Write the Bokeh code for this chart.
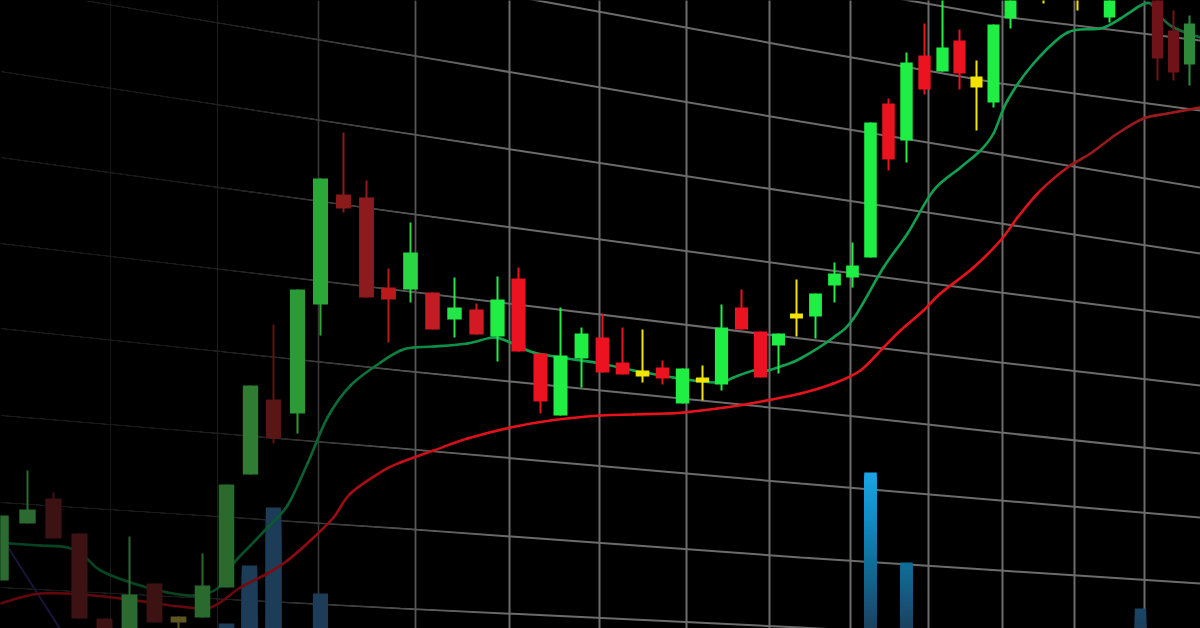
import numpy as np
from bokeh.plotting import figure
from bokeh.models import Range1d
from bokeh.embed import file_html
from bokeh.resources import INLINE

# ---------------- data (price units; time axis positions) ----------------
candle_x = [0, 27, 53, 79, 104, 129, 154, 178, 202, 226, 250, 273, 297, 320, 343, 366, 388,
            410, 432, 454, 476, 497, 518, 540, 560, 581, 602, 622, 642, 662, 682, 702, 721,
            741, 760, 778, 796, 815, 834, 852, 870, 888, 906, 924, 942, 959, 976, 993, 1010,
            1043, 1077, 1109, 1157, 1173, 1189]
opens = [48, 105, 130, 95, 10, -12, 45, 12, 11, 41, 154, 229, 215, 324, 434, 431, 341,
         339, 336, 309, 319, 292, 350, 275, 213, 270, 291, 266, 258, 261, 225, 251, 244,
         321, 297, 283, 315, 312, 343, 351, 371, 525, 488, 573, 557, 588, 552, 526, 610,
         658, 668, 611, 638, 598, 564]
highs = [113, 158, 136, 95, 10, 92, 45, 12, 75, 144, 243, 304, 339, 450, 496, 448, 360,
         406, 336, 351, 325, 352, 361, 275, 321, 301, 315, 301, 299, 268, 260, 263, 324,
         339, 297, 295, 349, 335, 366, 386, 506, 530, 576, 605, 638, 599, 568, 604, 648,
         658, 668, 648, 638, 618, 613]
lows = [48, 105, 90, 10, -12, -12, 6, -12, 11, 41, 154, 185, 195, 293, 416, 331, 286,
        326, 299, 291, 294, 267, 277, 215, 213, 241, 256, 254, 246, 244, 225, 228, 238,
        299, 251, 255, 292, 290, 326, 341, 371, 458, 466, 534, 557, 539, 498, 521, 600,
        625, 618, 606, 548, 548, 543]
closes = [113, 119, 90, 10, -12, 34, 6, 6, 43, 144, 243, 190, 339, 450, 420, 331, 329,
          376, 299, 321, 294, 329, 277, 227, 273, 295, 256, 254, 252, 250, 260, 246, 301,
          299, 251, 295, 310, 335, 355, 363, 506, 469, 566, 539, 581, 555, 541, 604, 648,
          653, 663, 648, 570, 556, 605]
kind = ["u", "u", "d", "d", "d", "u", "d", "n", "u", "u", "u", "d", "u", "u", "d", "d", "d",
        "u", "d", "u", "d", "u", "d", "d", "u", "u", "d", "d", "n", "d", "u", "n", "u",
        "d", "d", "u", "n", "u", "u", "u", "u", "d", "u", "d", "u", "d", "n", "u", "u",
        "n", "n", "u", "d", "d", "u"]

volume_x = [226, 249, 273, 320, 870, 906, 1140]
volume = [5, 63, 121, 35, 156, 66, 20]

ma_fast_x = [0, 10, 40, 67, 85, 100, 133, 167, 193, 217, 233, 250, 267, 287, 307, 327, 350,
             380, 400, 413, 433, 467, 493, 510, 533, 567, 600, 633, 673, 693, 720, 733, 753,
             767, 783, 800, 833, 853, 883, 907, 933, 960, 980, 993, 1007, 1033, 1067, 1100,
             1120, 1140, 1150, 1157, 1173, 1200]
ma_fast = [86, 85, 83, 81, 71, 58, 45, 36, 33, 40, 65, 83, 101, 123, 165, 211, 243,
           266, 278, 281, 282, 285, 291, 286, 276, 270, 265, 258, 251, 248, 246, 251, 258,
           258, 263, 270, 291, 310, 361, 395, 438, 461, 478, 495, 528, 565, 596, 600,
           610, 623, 625, 615, 601, 591]

ma_slow_x = [0, 20, 40, 67, 93, 120, 150, 180, 210, 240, 267, 287, 310, 333, 350, 383, 400,
             433, 467, 510, 550, 600, 633, 667, 683, 717, 750, 800, 833, 860, 883, 900, 923,
             940, 973, 1000, 1017, 1040, 1067, 1090, 1117, 1143, 1167, 1200]
ma_slow = [25, 31, 35, 35, 33, 30, 26, 22, 21, 41, 55, 68, 88, 111, 135, 158, 166,
           178, 190, 201, 208, 213, 214, 215, 216, 220, 225, 235, 245, 258, 281, 298, 318,
           335, 361, 388, 411, 438, 461, 475, 495, 510, 515, 521]

ma_third_x = [0, 67]
ma_third = [93, -12]

# perspective grid (decoration)
grid_h_x = [0, 400, 800, 1000, 1200]
grid_h_levels = [
    [788, 718, 647, 612, 588],
    [720, 653, 580, 545, 518],
    [642, 575, 507, 474, 441],
    [557, 496, 435, 405, 375],
    [471, 416, 362, 336, 311],
    [385, 338, 290, 266, 243],
    [300, 258, 218, 196, 175],
    [213, 180, 145, 128, 111],
    [126, 100, 71, 58, 45],
    [41, 20, 1, -10, -20],
]
grid_v_x = [110, 217, 318, 415, 509, 599, 686, 769, 850, 928, 1002, 1074, 1144]

# ---------------- styles ----------------
BG = "#000000"
GRID = "#6c6c6c"
# colour ramps along the time axis (depth-of-field / vignette look)
ramp = {
    "u": ([0, 150, 226, 250, 297, 320, 410, 454, 500, 1140, 1150],
          ["#2b6b30", "#2b6b30", "#2a6a2d", "#2e7d33", "#2e9a35", "#2ba838", "#2bd643",
           "#24e648", "#1fef45", "#1fef45", "#2e8a3a"]),
    "d": ([0, 160, 273, 343, 366, 388, 432, 476, 518, 1140, 1150],
          ["#3c1212", "#3c1212", "#5a1515", "#8b1a1a", "#8d1a1f", "#bb1a1a", "#c21c25",
           "#d31a22", "#ec1320", "#ec1320", "#6e1418"]),
    "n": ([0, 200, 500, 1200], ["#5e5424", "#5e5424", "#f2e400", "#f2e400"]),
}
ma_fast_ramp = ([0, 1140, 1152, 1200], ["#10a050", "#10a050", "#1c6638", "#1c6638"])
ma_slow_ramp = ([0, 1020, 1080, 1200], ["#e8121c", "#e8121c", "#9c1a1c", "#9c1a1c"])
ma_third_ramp = ([0, 1200], ["#34348a", "#34348a"])
vol_stops_y = [470, 520, 562, 600, 628]
vol_stops = ["#1ba5e5", "#1289c3", "#0f6e98", "#175479", "#1c405c"]
vol_haze = "#1c3c58"
vol_haze_x = [0, 350, 500, 1100, 1150]
vol_haze_w = [1.0, 1.0, 0.0, 0.0, 0.6]
fade_x = [0, 180, 230, 260, 300, 340, 380, 420, 470, 510]
fade_t = [0.42, 0.43, 0.47, 0.53, 0.62, 0.67, 0.77, 0.86, 0.93, 1.0]


def hex2rgb(h):
    h = h.lstrip("#")
    return np.array([int(h[i:i + 2], 16) for i in (0, 2, 4)], dtype=float)


def rgb2hex(c):
    return "#%02x%02x%02x" % tuple(int(round(min(255, max(0, v)))) for v in c)


def ramp_rgb(x, rx, rc):
    rgb = [hex2rgb(c) for c in rc]
    return np.array([np.interp(x, rx, [c[k] for c in rgb]) for k in range(3)])


def fade(x):
    return float(np.interp(x, fade_x, fade_t))


p = figure(width=1200, height=628, x_range=Range1d(0, 1200), y_range=Range1d(0, 628),
           output_backend="svg", toolbar_location=None, min_border=0,
           background_fill_color=BG, border_fill_color=BG, outline_line_color=None)
p.axis.visible = False
p.grid.visible = False

# grid
p.multi_line(xs=[grid_h_x] * len(grid_h_levels), ys=grid_h_levels, line_color=GRID, line_width=2)
p.segment(x0=grid_v_x, y0=[-40] * len(grid_v_x), x1=grid_v_x, y1=[700] * len(grid_v_x),
          line_color=GRID, line_width=2)

# left-side fade of the grid (nested translucent panels)
xb = np.arange(5, 515, 5, dtype=float)
T = np.interp(xb - 2.5, fade_x, fade_t)
T_next = np.append(T[1:], 1.0)
alphas = np.clip(1 - T / T_next, 0, 1)
p.quad(left=[-30] * len(xb), right=xb, bottom=[-40] * len(xb), top=[700] * len(xb),
       fill_color="black", fill_alpha=alphas, line_color=None)


def width_at(x):
    return 16.5 - 0.0045 * np.asarray(x, dtype=float)


# volume bars with vertical gradient
vx = np.array(volume_x, dtype=float)
vw = width_at(vx)
haze = hex2rgb(vol_haze)
ql, qr, qt, qc = [], [], [], []
for xi, wi, v in zip(vx, vw, volume):
    hw = float(np.interp(xi, vol_haze_x, vol_haze_w))
    top = float(v)
    while top > -20:
        grad = ramp_rgb(628 - top, vol_stops_y, vol_stops)
        ql.append(xi - wi / 2); qr.append(xi + wi / 2); qt.append(top)
        qc.append(rgb2hex(grad * (1 - hw) + haze * hw))
        top -= 3
p.quad(left=ql, right=qr, top=qt, bottom=[-30] * len(qt), fill_color=qc, line_color=None)


def smooth_line(xs, ys, cramp, width):
    """Smooth curve through the points with Bokeh's bezier glyph (Catmull-Rom)."""
    P = np.column_stack([xs, ys]).astype(float)
    prev = np.vstack([P[0], P[:-2]])
    nxt = np.vstack([P[2:], P[-1]])
    a, b = P[:-1], P[1:]
    c0 = a + (b - prev) / 6.0
    c1 = b - (nxt - a) / 6.0
    mids = 0.5 * (a[:, 0] + b[:, 0])
    cols = [rgb2hex(ramp_rgb(m, *cramp) * fade(m)) for m in mids]
    p.bezier(x0=a[:, 0], y0=a[:, 1], x1=b[:, 0], y1=b[:, 1],
             cx0=c0[:, 0], cy0=c0[:, 1], cx1=c1[:, 0], cy1=c1[:, 1],
             line_color=cols, line_width=width, line_cap="round")


# moving averages
smooth_line(ma_third_x, ma_third, ma_third_ramp, 2)
smooth_line(ma_slow_x, ma_slow, ma_slow_ramp, 2.6)
smooth_line(ma_fast_x, ma_fast, ma_fast_ramp, 2.6)

# candles
cx = np.array(candle_x, dtype=float)
cw = width_at(cx)
colors = [rgb2hex(ramp_rgb(x, *ramp[k])) for x, k in zip(candle_x, kind)]
p.segment(x0=cx, y0=highs, x1=cx, y1=lows, line_color=colors, line_width=2)
tops = np.maximum(opens, closes)
bots = np.minimum(opens, closes)
p.quad(left=cx - cw / 2, right=cx + cw / 2, top=tops, bottom=bots, fill_color=colors, line_color=None)

template = """{% block postamble %}<style>html, body { background: #000000; margin: 0; padding: 0; overflow: hidden; }</style>{% endblock %}"""
open("out.html", "w").write(file_html(p, INLINE, template=template))
